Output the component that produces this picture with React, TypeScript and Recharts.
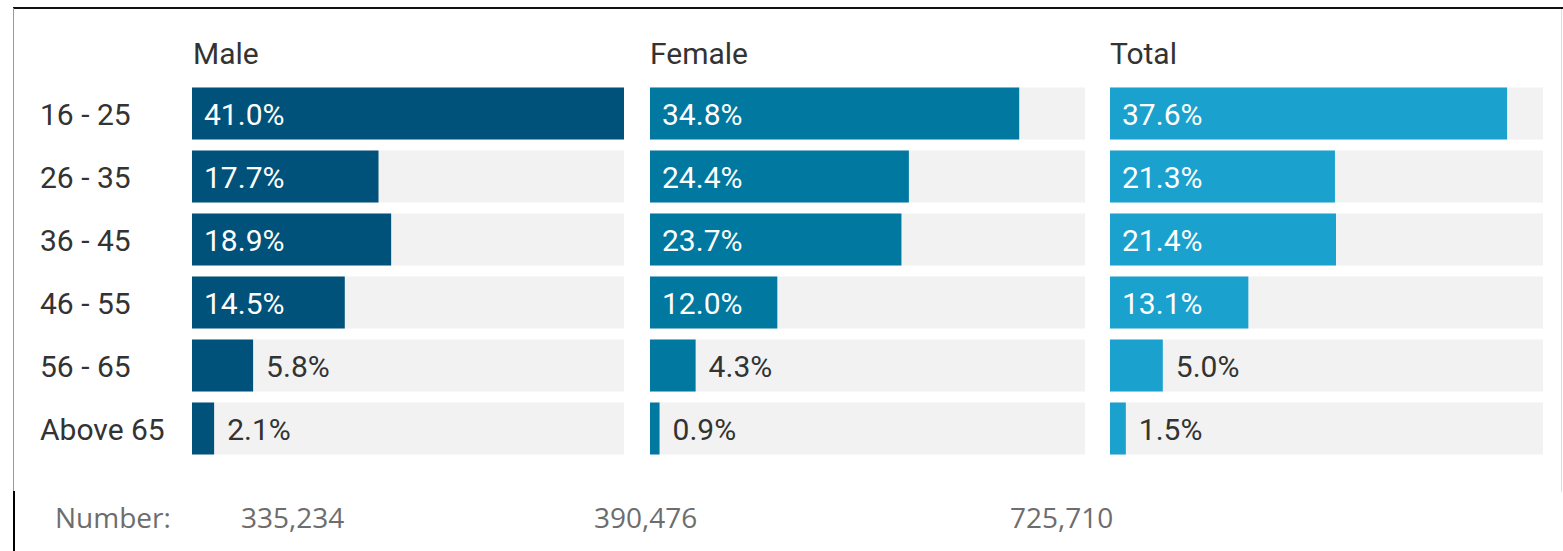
import React from "react";
import { BarChart, Bar, XAxis, YAxis, LabelList } from "recharts";

const ageGroups = ["16 - 25", "26 - 35", "36 - 45", "46 - 55", "56 - 65", "Above 65"];
const maleValues = [41.0, 17.7, 18.9, 14.5, 5.8, 2.1];
const femaleValues = [34.8, 24.4, 23.7, 12.0, 4.3, 0.9];
const totalValues = [37.6, 21.3, 21.4, 13.1, 5.0, 1.5];
const panelTitles = ["Male", "Female", "Total"];
const panelColors = ["#00527a", "#0078a0", "#1aa1cd"];
const numberLabel = "Number:";
const numberValues = ["335,234", "390,476", "725,710"];
const maxDomain = 41;

const data = ageGroups.map((age, i) => ({
  age,
  male: maleValues[i],
  female: femaleValues[i],
  total: totalValues[i],
}));

const FONT = "Roboto, 'Noto Sans', sans-serif";
const FS = 30;

const PctLabel = (props: any) => {
  const { x, y, width, height, value } = props;
  const inside = value >= 10;
  return (
    <text
      x={inside ? x + 12 : x + width + 13}
      y={y + height / 2 + 1}
      fill={inside ? "#ffffff" : "#333333"}
      fontFamily={FONT}
      fontSize={FS}
      dominantBaseline="central"
      textAnchor="start"
    >
      {value.toFixed(1)}%
    </text>
  );
};

const AgeTick = (props: any) => {
  const { y, payload } = props;
  return (
    <text x={40} y={y + 1} fill="#333333" fontFamily={FONT} fontSize={FS} dominantBaseline="central" textAnchor="start">
      {payload.value}
    </text>
  );
};

const panels = [
  { key: "male", left: 0, width: 624, yAxis: 192 },
  { key: "female", left: 650, width: 435, yAxis: 0 },
  { key: "total", left: 1110, width: 433, yAxis: 0 },
];
const titleX = [193, 650, 1110];
const numberX = [241, 594, 1010];

export default function App() {
  return (
    <div style={{ position: "absolute", left: 0, top: 0, width: 1563, height: 551, background: "#fff", overflow: "hidden" }}>
      {/* frame */}
      <div style={{ position: "absolute", left: 13, top: 7, width: 1550, height: 2, background: "#111" }} />
      <div style={{ position: "absolute", left: 13, top: 8, width: 1, height: 483, background: "#999" }} />
      <div style={{ position: "absolute", left: 13, top: 491, width: 2, height: 60, background: "#000" }} />
      <div style={{ position: "absolute", left: 1561, top: 9, width: 1, height: 483, background: "#ddd" }} />

      {panelTitles.map((t, i) => (
        <div
          key={t}
          style={{
            position: "absolute",
            left: titleX[i],
            top: 35,
            fontFamily: FONT,
            fontSize: FS,
            color: "#333",
            lineHeight: "38px",
          }}
        >
          {t}
        </div>
      ))}

      {panels.map((p, i) => (
        <div key={p.key} style={{ position: "absolute", left: p.left, top: 0 }}>
          <BarChart
            width={p.width}
            height={470}
            data={data}
            layout="vertical"
            margin={{ top: 81.5, right: 0, bottom: 10.5, left: 0 }}
            barCategoryGap={5.5}
          >
            <XAxis type="number" domain={[0, maxDomain]} hide />
            <YAxis
              type="category"
              dataKey="age"
              width={p.yAxis}
              hide={p.yAxis === 0}
              axisLine={false}
              tickLine={false}
              tick={<AgeTick />}
              interval={0}
            />
            <Bar dataKey={p.key} fill={panelColors[i]} barSize={52} background={{ fill: "#f2f2f2" }} isAnimationActive={false}>
              <LabelList dataKey={p.key} content={<PctLabel />} />
            </Bar>
          </BarChart>
        </div>
      ))}

      <div style={{ position: "absolute", left: 55, top: 498, fontFamily: "'Open Sans', sans-serif", fontSize: 28, color: "#6d6d6d", lineHeight: "38px" }}>
        {numberLabel}
      </div>
      {numberValues.map((v, i) => (
        <div
          key={v}
          style={{ position: "absolute", left: numberX[i], top: 498, fontFamily: "'Open Sans', sans-serif", fontSize: 28, color: "#6d6d6d", lineHeight: "38px" }}
        >
          {v}
        </div>
      ))}
    </div>
  );
}
